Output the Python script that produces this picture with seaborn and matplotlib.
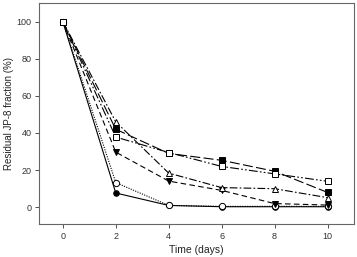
import numpy as np
import pandas as pd
import matplotlib
matplotlib.use("Agg")
import matplotlib.pyplot as plt
import seaborn as sns

# Residual JP-8 fraction over time, six treatments
days = [0, 2, 4, 6, 8, 10]
filled_circle = [100, 7.7, 1.0, 0.3, 0.3, 0.3]
open_circle = [100, 13.3, 1.0, 0.5, 0.5, 0.5]
filled_tri = [100, 29.7, 14.1, 9.1, 2.0, 1.2]
open_tri = [100, 46.0, 18.4, 10.6, 10.0, 5.2]
filled_sq = [100, 42.0, 29.0, 25.3, 19.4, 8.0]
open_sq = [100, 37.8, 29.5, 22.0, 18.0, 14.0]

series = [
    ("s1", filled_circle, "o", "black", (0, ()), 4),
    ("s2", open_circle, "o", "white", (0, (1, 1.2)), 4.5),
    ("s3", filled_tri, "v", "black", (0, (5, 3)), 4.5),
    ("s4", open_tri, "^", "white", (0, (7, 2, 1.5, 2)), 5),
    ("s5", filled_sq, "s", "black", (0, (9, 3)), 4.5),
    ("s6", open_sq, "s", "white", (0, (8, 2, 1.5, 2, 1.5, 2)), 5),
]

rows = []
for name, vals, *_ in series:
    for d, v in zip(days, vals):
        rows.append({"day": d, "value": v, "series": name})
df = pd.DataFrame(rows)

sns.set_style("white")
plt.rcParams["font.family"] = ["Liberation Sans", "DejaVu Sans"]

fig = plt.figure(figsize=(3.57, 2.57), dpi=100)
ax = fig.add_axes([39 / 357, 33 / 257, 315 / 357, 221 / 257])

for name, vals, marker, face, ls, ms in series:
    sub = df[df["series"] == name]
    sns.lineplot(data=sub, x="day", y="value", ax=ax, color="black",
                 linewidth=0.8, linestyle=ls, marker=marker,
                 markerfacecolor=face, markeredgecolor="black",
                 markeredgewidth=0.7, markersize=ms, legend=False)

ax.set_xlim(-0.9, 11)
ax.set_ylim(-9, 110)
ax.set_xticks(days)
ax.set_yticks([0, 20, 40, 60, 80, 100])
ax.set_xlabel("Time (days)", fontsize=7.5, color="#222222", labelpad=3)
ax.set_ylabel("Residual JP-8 fraction (%)", fontsize=7, color="#222222",
              labelpad=2)
ax.tick_params(axis="both", labelsize=6.5, colors="#333333", direction="out",
               length=3, width=0.6, bottom=True, left=True, pad=2.5)
for sp in ax.spines.values():
    sp.set_color("#666666")
    sp.set_linewidth(0.8)

fig.savefig("out.png", dpi=100)
